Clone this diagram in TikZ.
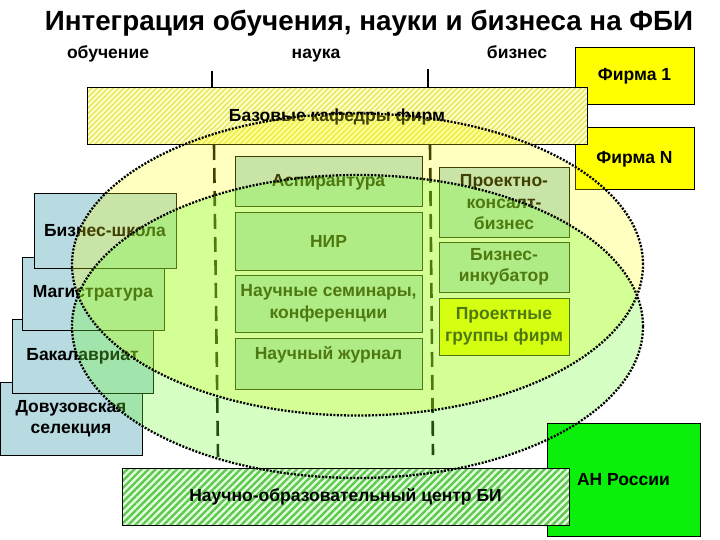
\documentclass[tikz,border=0pt]{standalone}
\usepackage{fontspec}
\setmainfont{Liberation Sans}
\usetikzlibrary{patterns.meta}

\definecolor{boxblue}{RGB}{183,219,224}
\definecolor{firmyellow}{RGB}{255,255,0}
\definecolor{angreen}{RGB}{10,240,10}
\definecolor{hatchyellow}{RGB}{232,232,96}
\definecolor{paleyellow}{RGB}{255,255,208}
\definecolor{hatchgreen}{RGB}{96,200,80}
\definecolor{palegreen}{RGB}{226,255,222}
\definecolor{ellyellow}{RGB}{255,255,0}
\definecolor{ellgreen}{RGB}{115,255,55}

\newcommand{\boxfont}{\fontsize{17.5}{21.5}\selectfont\bfseries}
\newcommand{\titlefont}{\fontsize{27.8}{32}\selectfont\bfseries}

\begin{document}
\begin{tikzpicture}[
  x=1pt, y=-1pt,
  box/.style={draw=black, line width=1pt, fill=boxblue, align=center, inner sep=2pt, font=\boxfont},
  firm/.style={box, fill=firmyellow, minimum width=119pt},
  leftbox/.style={box, minimum width=142pt, minimum height=73pt},
  midbox/.style={box, minimum width=187pt},
  rightbox/.style={box, minimum width=130pt},
  hatchbox/.style={draw=black, line width=1pt, align=center, font=\boxfont, inner sep=2pt,
    preaction={fill=#1}},
  column/.style={anchor=base, font=\boxfont},
  topline/.style={line width=2.2pt},
  divider/.style={line width=2.6pt, dash pattern=on 15pt off 8pt},
  ellfill/.style={fill=#1, fill opacity=0.3},
  ellline/.style={draw=black, line width=2.3pt, dash pattern=on 2pt off 1.5pt}
]
\useasboundingbox (0,0) rectangle (720,540);

% Title and columns
\node[anchor=base, font=\titlefont] (title) at (369,31) {Интеграция обучения, науки и бизнеса на ФБИ};
\node[column] (obuch) at (108,59) {обучение};
\node[column] (nauka) at (316,59) {наука};
\node[column] (biznes) at (517,59) {бизнес};

% Column dividers
\draw[topline] (212,71) -- (212,88);
\draw[topline] (428,69) -- (428,88);
\draw[divider] (214,145) -- (218,457);
\draw[divider] (430,145) -- (433,455);

% Firms
\node[firm, minimum height=57pt] (firm1) at (634.5,76.5) {Фирма 1};
\node[firm, minimum height=62pt] (firmN) at (634.5,159) {Фирма N};

% Base chairs
\node[hatchbox=paleyellow, minimum width=500pt, minimum height=57pt,
  pattern={Lines[angle=45,distance=3.8pt,line width=1.6pt]}, pattern color=hatchyellow]
  (baz) at (337,116.5) {Базовые кафедры фирм};

% Education column (bottom one first)
\node[leftbox] (dovuz) at (71,418.5) {Довузовская\\селекция};
\node[leftbox, minimum width=141pt, minimum height=74pt] (bakalavr) at (82.5,356) {Бакалавриат};
\node[leftbox] (magistr) at (93,293.5) {Магистратура};
\node[leftbox, minimum height=74pt] (bschool) at (105,231) {Бизнес-школа};

% Science column
\node[midbox, minimum height=50pt] (aspir) at (328.5,182) {Аспирантура};
\node[midbox, minimum height=57pt] (nir) at (328.5,241.5) {НИР};
\node[midbox, minimum height=57pt] (semin) at (328.5,303.5) {Научные семинары,\\конференции};
\node[midbox, minimum height=51pt, text depth=22pt] (journal) at (328.5,363.5) {Научный журнал};

% Business column
\node[rightbox, minimum height=69pt] (consult) at (504,202.5) {Проектно-\\консалт-\\бизнес};
\node[rightbox, minimum height=50pt] (incub) at (504,267) {Бизнес-\\инкубатор};
\node[rightbox, minimum height=57pt, fill=firmyellow] (pgroups) at (504,326.5) {Проектные\\группы фирм};

% Ellipses
\fill[ellfill=ellyellow, fill opacity=0.25] (357.5,264.5) ellipse [x radius=285.5pt, y radius=151pt];
\fill[ellfill=ellgreen] (357.5,326.5) ellipse [x radius=285.5pt, y radius=151.5pt];

% Academy and centre
\node[box, fill=angreen, minimum width=153pt, minimum height=113pt] (ran) at (623.5,479.5) {АН России};
\node[hatchbox=palegreen, minimum width=447pt, minimum height=57pt,
  pattern={Lines[angle=45,distance=5pt,line width=2.4pt]}, pattern color=hatchgreen]
  (noc) at (345.5,496.5) {Научно-образовательный центр БИ};

% Ellipse outlines
\draw[ellline] (357.5,264.5) ellipse [x radius=285.5pt, y radius=151pt];
\draw[ellline] (357.5,326.5) ellipse [x radius=285.5pt, y radius=151.5pt];

\end{tikzpicture}
\end{document}
